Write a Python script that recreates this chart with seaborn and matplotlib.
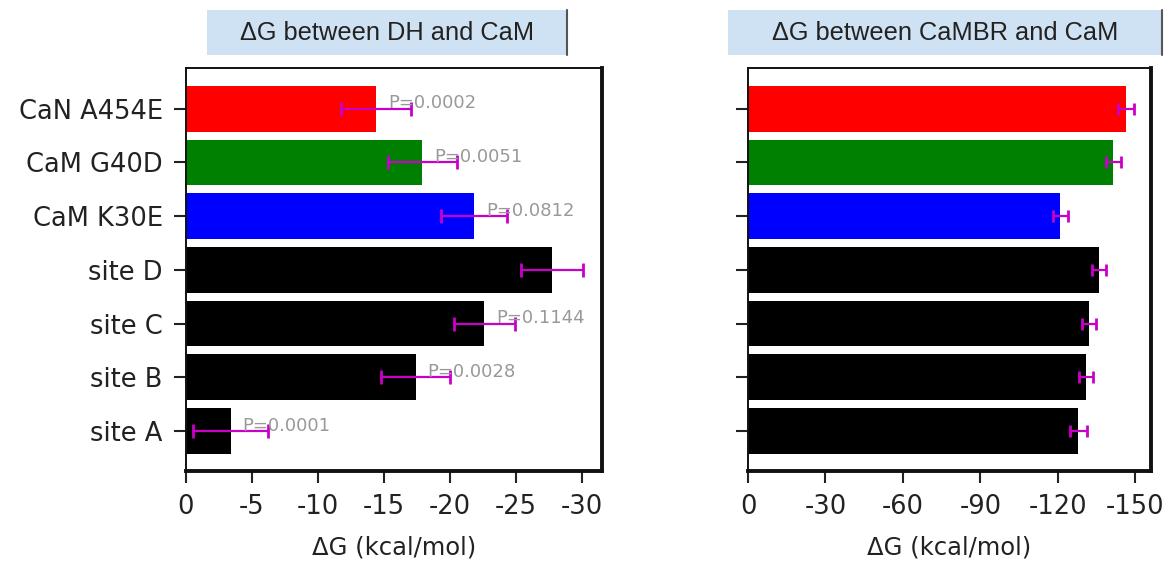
import matplotlib
matplotlib.use('Agg')
import matplotlib.pyplot as plt
import seaborn as sns
import pandas as pd
from matplotlib.patches import Rectangle
from matplotlib.lines import Line2D

# dados
categorias = ['CaN A454E', 'CaM G40D', 'CaM K30E', 'site D', 'site C', 'site B', 'site A']
cores = ['#ff0000', '#008000', '#0000ff', '#000000', '#000000', '#000000', '#000000']

dg_dh = [-14.4, -17.9, -21.8, -27.7, -22.6, -17.4, -3.4]
err_dh = [2.65, 2.6, 2.5, 2.35, 2.3, 2.6, 2.8]
p_valores = ['P=0.0002', 'P=0.0051', 'P=0.0812', '', 'P=0.1144', 'P=0.0028', 'P=0.0001']

dg_cambr = [-146.5, -141.5, -121.0, -136.0, -132.0, -131.0, -128.0]
err_cambr = [3.0, 2.9, 3.0, 2.8, 2.7, 2.8, 3.2]

titulos = ['ΔG between DH and CaM', 'ΔG between CaMBR and CaM']
ticks_dh = [0, -5, -10, -15, -20, -25, -30]
ticks_cambr = [0, -30, -60, -90, -120, -150]

sns.set_style('ticks')
plt.rcParams['font.family'] = ['DejaVu Sans']
plt.rcParams['axes.unicode_minus'] = False

fig = plt.figure(figsize=(11.67, 5.61), dpi=100)
ax1 = fig.add_axes([0.159, 0.160, 0.357, 0.718])
ax2 = fig.add_axes([0.641, 0.160, 0.345, 0.718])


def desenhar(ax, valores, erros, xlim, ticks, mostrar_rotulos, capsize):
    df = pd.DataFrame({'cat': categorias, 'dg': valores})
    sns.barplot(data=df, x='dg', y='cat', hue='cat', palette=cores, legend=False,
                width=0.85, saturation=1, edgecolor='none', ax=ax)
    ax.errorbar(valores, range(len(categorias)), xerr=erros, fmt='none',
                ecolor='#c800c8', elinewidth=1.6, capsize=capsize, capthick=2)
    ax.set_xlim(*xlim)
    ax.set_ylim(6.75, -0.75)
    ax.set_xticks(ticks)
    ax.set_xticklabels([str(t) for t in ticks])
    ax.set_xlabel('ΔG (kcal/mol)', fontsize=17.5, color='#222222', labelpad=11)
    ax.set_ylabel('')
    ax.set_yticks(range(len(categorias)))
    if mostrar_rotulos:
        ax.set_yticklabels(categorias)
    else:
        ax.set_yticklabels([])
    ax.tick_params(axis='both', labelsize=18.5, length=8.5, width=1.5,
                   colors='#222222', direction='out', pad=8)
    for lado in ['top', 'left']:
        ax.spines[lado].set_linewidth(1.4)
    for lado in ['right', 'bottom']:
        ax.spines[lado].set_linewidth(2.8)
    for s in ax.spines.values():
        s.set_visible(True)
        s.set_color('#111111')


desenhar(ax1, dg_dh, err_dh, (0, -31.5), ticks_dh, True, 5)
desenhar(ax2, dg_cambr, err_cambr, (0, -156), ticks_cambr, False, 4)

# valores de P ao lado das barras
for i, (v, p) in enumerate(zip(dg_dh, p_valores)):
    if p:
        ax1.text(v - 0.9, i - 0.1, p, fontsize=13, color='#999999',
                 va='center', ha='left')

# caixas de título
caixas = [(0.177, 0.309), (0.624, 0.372)]
for (x0, w), titulo in zip(caixas, titulos):
    fig.patches.append(Rectangle((x0, 0.902), w, 0.080, transform=fig.transFigure,
                                 facecolor='#cfe2f3', edgecolor='none', zorder=0))
    fig.lines.append(Line2D([x0 + w, x0 + w], [0.902, 0.982], transform=fig.transFigure,
                            color='#555555', linewidth=1.5))
    fig.text(x0 + w / 2, 0.942, titulo, ha='center', va='center', fontsize=18.3,
             family=['Liberation Sans', 'DejaVu Sans'], color='#222222')

fig.savefig('out.png', dpi=100)
